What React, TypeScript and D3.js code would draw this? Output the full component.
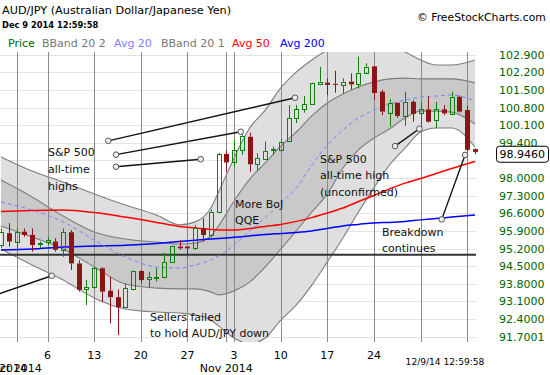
import React from 'react';
import * as d3 from 'd3';

// ---- price bars (daily, incl. Sunday sessions) ----
const dates = [
  '2014-09-29','2014-09-30','2014-10-01','2014-10-02','2014-10-03','2014-10-05','2014-10-06','2014-10-07','2014-10-08','2014-10-09',
  '2014-10-10','2014-10-12','2014-10-13','2014-10-14','2014-10-15','2014-10-16','2014-10-17','2014-10-19','2014-10-20','2014-10-21',
  '2014-10-22','2014-10-23','2014-10-24','2014-10-26','2014-10-27','2014-10-28','2014-10-29','2014-10-30','2014-10-31','2014-11-02',
  '2014-11-03','2014-11-04','2014-11-05','2014-11-06','2014-11-07','2014-11-09','2014-11-10','2014-11-11','2014-11-12','2014-11-13',
  '2014-11-14','2014-11-16','2014-11-17','2014-11-18','2014-11-19','2014-11-20','2014-11-21','2014-11-23','2014-11-24','2014-11-25',
  '2014-11-26','2014-11-27','2014-11-28','2014-11-30','2014-12-01','2014-12-02','2014-12-03','2014-12-04','2014-12-05','2014-12-07',
  '2014-12-08','2014-12-09'
];
const opens = [
  95.34, 95.81, 95.48, 95.87, 95.74, 95.36, 95.45, 95.48, 95.15, 95.85,
  94.61, 93.58, 93.66, 94.42, 93.53, 93.27, 92.87, 93.58, 94.31, 93.98,
  94.04, 94.06, 94.66, 95.28, 95.28, 95.21, 96.00, 95.74, 96.66, 98.96,
  98.63, 99.12, 99.64, 98.55, 98.76, 99.11, 99.12, 99.47, 100.37, 100.73,
  100.94, 101.76, 101.79, 101.74, 101.70, 101.83, 101.74, 102.20, 102.44, 101.43,
  100.60, 100.99, 100.48, 101.03, 100.57, 100.73, 100.31, 100.73, 100.57, 101.23,
  100.70, 99.15
];
const highs = [
  96.00, 96.21, 96.00, 96.00, 96.00, 95.48, 95.67, 95.61, 96.00, 95.94,
  94.74, 93.95, 94.46, 94.46, 94.08, 93.58, 93.82, 94.33, 94.33, 94.28,
  94.42, 95.04, 95.32, 95.54, 95.30, 96.14, 96.40, 96.75, 99.00, 99.10,
  99.52, 99.78, 99.80, 98.99, 99.45, 99.25, 99.58, 100.90, 100.90, 101.26,
  101.80, 102.42, 101.96, 102.26, 101.96, 102.16, 102.82, 102.56, 102.45, 101.50,
  101.13, 101.00, 101.43, 101.10, 101.03, 101.23, 101.03, 100.90, 101.43, 101.28,
  100.86, 99.18
];
const lows = [
  95.22, 95.28, 95.08, 95.67, 95.08, 95.21, 95.34, 95.08, 94.87, 94.35,
  93.49, 92.96, 93.62, 93.07, 92.23, 91.77, 92.83, 93.55, 93.82, 93.66,
  93.89, 94.02, 94.64, 95.15, 94.88, 95.15, 95.48, 95.65, 96.60, 98.26,
  98.45, 98.92, 98.25, 98.32, 98.72, 98.92, 99.05, 99.45, 100.18, 100.60,
  100.90, 101.76, 101.30, 101.39, 101.36, 101.52, 101.56, 102.16, 101.12, 100.50,
  100.04, 100.40, 100.07, 100.24, 99.98, 100.20, 99.98, 100.50, 100.50, 100.60,
  99.05, 98.95
];
const closes = [
  95.87, 95.48, 95.87, 95.74, 95.34, 95.41, 95.54, 95.15, 95.85, 94.61,
  93.56, 93.66, 94.42, 93.49, 93.27, 92.87, 93.62, 94.31, 93.95, 94.06,
  94.07, 94.66, 95.30, 95.21, 95.21, 96.00, 95.74, 96.66, 98.96, 98.62,
  99.12, 99.69, 98.55, 98.79, 99.08, 99.15, 99.45, 100.37, 100.73, 100.94,
  101.79, 101.83, 101.70, 101.70, 101.83, 101.72, 102.19, 102.42, 101.38, 100.64,
  100.99, 100.47, 101.03, 100.55, 100.73, 100.24, 100.73, 100.57, 101.23, 100.64,
  99.12, 99.04
];
const lastPrice = 98.946;

// ---- indicator values read at sample bars ----
const bandIdx = [0, 4, 8, 12, 16, 20, 23, 25, 27, 28, 30, 32, 34, 36, 38, 40, 42, 44, 46, 48, 50, 52, 54, 56, 58, 61];
const bbUpper2 = [98.84, 98.28, 97.84, 97.37, 96.93, 96.53, 96.14, 96.26, 96.81, 97.45, 98.80, 99.99, 100.70, 101.58, 102.21, 102.69, 103.09, 103.40, 103.56, 103.48, 103.25, 103.01, 102.69, 102.49, 102.49, 102.69];
const bbUpper1 = [97.92, 97.25, 96.49, 95.86, 95.58, 95.46, 95.38, 95.42, 95.70, 96.10, 97.09, 97.96, 98.60, 99.27, 99.83, 100.47, 100.98, 101.34, 101.62, 101.82, 101.94, 101.97, 101.94, 101.94, 101.94, 101.78];
const avg20 = [97.05, 96.73, 96.26, 95.54, 94.87, 94.47, 94.43, 94.55, 94.75, 94.91, 95.34, 95.90, 96.42, 97.01, 97.61, 98.52, 99.31, 99.91, 100.39, 100.70, 100.94, 101.10, 101.22, 101.26, 101.30, 101.06];
const bbLower1 = [96.10, 95.66, 95.18, 94.47, 93.79, 93.63, 93.60, 93.60, 93.48, 93.36, 93.52, 93.87, 94.47, 95.18, 95.90, 96.65, 97.37, 98.40, 99.12, 99.59, 99.95, 100.39, 100.66, 100.66, 100.62, 100.15];
const bbLower2 = [95.18, 94.55, 93.95, 93.24, 92.80, 92.68, 92.64, 92.56, 92.36, 92.13, 91.65, 91.41, 91.65, 92.36, 92.96, 93.75, 94.67, 95.62, 96.65, 97.61, 98.52, 99.19, 99.83, 99.99, 99.99, 99.23];
const avg50 = [96.67, 96.71, 96.73, 96.63, 96.45, 96.24, 96.08, 96.02, 95.96, 95.94, 95.94, 96.00, 96.08, 96.16, 96.28, 96.43, 96.61, 96.81, 97.07, 97.31, 97.57, 97.80, 97.98, 98.18, 98.38, 98.66];
const avg200 = [95.14, 95.18, 95.26, 95.30, 95.33, 95.40, 95.48, 95.53, 95.58, 95.60, 95.65, 95.70, 95.76, 95.80, 95.84, 95.90, 96.00, 96.10, 96.16, 96.22, 96.24, 96.28, 96.34, 96.39, 96.45, 96.53];
const supportLevel = 94.95;

// ---- axes ----
const yTicks = [102.9, 102.2, 101.5, 100.8, 100.1, 99.4, 98.7, 98.0, 97.3, 96.6, 95.9, 95.2, 94.5, 93.8, 93.1, 92.4, 91.7001];
const yTickLabels = ['102.900', '102.200', '101.500', '100.800', '100.100', '99.400', '', '98.0000', '97.3000', '96.6000', '95.9000', '95.2000', '94.5000', '93.8000', '93.1000', '92.4000', '91.7001'];
const weekTickDates = ['2014-10-06', '2014-10-13', '2014-10-20', '2014-10-27', '2014-11-03', '2014-11-10', '2014-11-17', '2014-11-24', '2014-12-01', '2014-12-08'];
const weekTickLabels = ['6', '13', '20', '27', '3', '10', '17', '24', '', ''];
const monthLineDates = ['2014-10-01', '2014-11-02'];
const monthLabelDates = ['2014-09-29', '2014-10-01', '2014-11-02'];
const monthLabels = ['Sep 2014', 'Oct 2014', 'Nov 2014'];

const legendNames = ['Price', 'BBand 20 2', 'Avg 20', 'BBand 20 1', 'Avg 50', 'Avg 200'];
const legendColors = ['#006400', '#777777', '#8080ff', '#777777', '#ff0000', '#0000ff'];
const legendX = [8, 42, 114, 161, 232, 280];

// ---- annotations (bar index, price) ----
const noteSegments = [
  { i1: 13.81, p1: 99.48, i2: 37.84, p2: 101.19, dot1: true },
  { i1: 14.80, p1: 98.93, i2: 30.85, p2: 99.84, dot1: true },
  { i1: 14.80, p1: 98.45, i2: 25.70, p2: 98.75, dot1: true },
  { i1: -1.6, p1: 93.26, i2: 6.53, p2: 94.12, dot1: false },
  { i1: 50.71, p1: 99.27, i2: 53.84, p2: 99.96, dot1: true },
  { i1: 56.72, p1: 96.36, i2: 59.72, p2: 98.92, dot1: true },
];
const noteTexts = [
  { i: 6.05, p: [99.04, 98.36, 97.69], lines: ['S&P 500', 'all-time', 'highs'] },
  { i: 30.12, p: [96.97, 96.34], lines: ['More BoJ', 'QQE'] },
  { i: 41.06, p: [98.75, 98.12, 97.46], lines: ['S&P 500', 'all-time high', '(unconfirmed)'] },
  { i: 49.03, p: [95.87, 95.24], lines: ['Breakdown', 'continues'] },
  { i: 19.18, p: [92.49, 91.86], lines: ['Sellers failed', 'to hold AUD/JPY down'] },
];

const FONT = "'DejaVu Sans', Verdana, sans-serif";
const UP = '#12800f';
const DOWN = '#8b1414';

export default function App() {
  const plot = { left: 0, right: 478, top: 52, bottom: 342 };
  const x = d3.scaleLinear().domain([0, dates.length - 1]).range([1, 475]);
  const y = d3.scaleLinear().domain([91.7001, 102.9]).range([336.7, 54.7]);
  const xd = (d: string) => x(dates.indexOf(d));
  const crisp = (v: number) => Math.round(v) + 0.5;

  const pts = (arr: number[]) => bandIdx.map((b, k) => [b, arr[k]] as [number, number]);
  const line = d3.line<[number, number]>().x(d => x(d[0])).y(d => y(d[1])).curve(d3.curveMonotoneX);
  const area = (hi: number[], lo: number[]) =>
    d3.area<number>().x(k => x(bandIdx[k])).y0(k => y(lo[k])).y1(k => y(hi[k])).curve(d3.curveMonotoneX)(bandIdx.map((_, k) => k)) || '';

  return (
    <svg width={550} height={375} style={{ position: 'absolute', left: 0, top: 0, background: '#fff' }} fontFamily={FONT}>
      <defs>
        <clipPath id="plotClip">
          <rect x={plot.left} y={plot.top} width={plot.right - plot.left} height={plot.bottom - plot.top} />
        </clipPath>
      </defs>
      <rect x={0} y={0} width={550} height={375} fill="#fff" />

      {/* header */}
      <text x={2} y={13.5} fontSize={11.25} fill="#000">AUD/JPY (Australian Dollar/Japanese Yen)</text>
      <text x={2} y={28.3} fontSize={8.3} fontWeight="bold" fill="#000">Dec 9 2014 12:59:58</text>
      <text x={417} y={20.5} fontSize={10.8} fill="#000">© FreeStockCharts.com</text>
      {legendNames.map((n, k) => (
        <text key={n + k} x={legendX[k]} y={47} fontSize={11} fill={legendColors[k]}>{n}</text>
      ))}

      {/* horizontal grid */}
      {yTicks.map(t => (
        <line key={'hg' + t} x1={plot.left} x2={476} y1={crisp(y(t))} y2={crisp(y(t))} stroke="#e3e3e3" />
      ))}

      <g clipPath="url(#plotClip)">
        {/* bands */}
        <path d={area(bbUpper2, bbLower2)} fill="#dfdfdf" />
        <path d={area(bbUpper1, bbLower1)} fill="#c9c9c9" />
        {[bbUpper2, bbUpper1, bbLower1, bbLower2].map((arr, k) => (
          <path key={'bl' + k} d={line(pts(arr)) || ''} fill="none" stroke="#7d7d7d" strokeWidth={1.1} />
        ))}

        {/* vertical grid */}
        {weekTickDates.map(d => (
          <line key={'vg' + d} x1={crisp(xd(d))} x2={crisp(xd(d))} y1={plot.top} y2={plot.bottom} stroke="#8a8a8a" />
        ))}
        {monthLineDates.map(d => (
          <line key={'mg' + d} x1={crisp(xd(d))} x2={crisp(xd(d))} y1={plot.top} y2={plot.bottom} stroke="#8a8a8a" />
        ))}

        {/* support */}
        <line x1={0} x2={476} y1={y(supportLevel)} y2={y(supportLevel)} stroke="#333" strokeWidth={2} />

        {/* moving averages */}
        <path d={line(pts(avg200)) || ''} fill="none" stroke="#0000ff" strokeWidth={1.5} />
        <path d={line(pts(avg50)) || ''} fill="none" stroke="#ff0000" strokeWidth={1.5} />
        <path d={line(pts(avg20)) || ''} fill="none" stroke="#8080ff" strokeWidth={1} strokeDasharray="4,3" />

        {/* candles */}
        {dates.map((d, i) => {
          const o = opens[i], c = closes[i], h = highs[i], l = lows[i];
          const up = c >= o;
          const px = Math.round(x(i));
          const top = y(Math.max(o, c)), bot = y(Math.min(o, c));
          const col = up ? UP : DOWN;
          const bh = Math.max(1, bot - top);
          return (
            <g key={d}>
              <line x1={px + 0.5} x2={px + 0.5} y1={y(h)} y2={top} stroke={col} />
              <line x1={px + 0.5} x2={px + 0.5} y1={top + bh} y2={y(l)} stroke={col} />
              {up ? (
                <rect x={px - 1.5} y={Math.round(top) + 0.5} width={4} height={Math.max(1, Math.round(bh))} fill="none" stroke={col} />
              ) : (
                <rect x={px - 2} y={top} width={5} height={bh} fill={col} />
              )}
            </g>
          );
        })}

        {/* annotation lines */}
        {noteSegments.map((s, k) => (
          <g key={'ns' + k}>
            <line x1={x(s.i1)} y1={y(s.p1)} x2={x(s.i2)} y2={y(s.p2)} stroke="#111" strokeWidth={1.4} />
            {s.dot1 && <circle cx={x(s.i1)} cy={y(s.p1)} r={2.8} fill="#eee" stroke="#555" />}
            <circle cx={x(s.i2)} cy={y(s.p2)} r={2.8} fill="#eee" stroke="#555" />
          </g>
        ))}
      </g>

      {/* annotation texts */}
      {noteTexts.map((n, k) => (
        <g key={'nt' + k}>
          {n.lines.map((ln, j) => (
            <text key={j} x={x(n.i)} y={y(n.p[j]) + 4} fontSize={11} fill="#111">{ln}</text>
          ))}
        </g>
      ))}

      {/* y axis labels */}
      {yTicks.map((t, k) => yTickLabels[k] ? (
        <text key={'yl' + t} x={499} y={y(t) + 4} fontSize={11} fill="#006400">{yTickLabels[k]}</text>
      ) : null)}
      <rect x={496.5} y={y(lastPrice) - 8} width={52} height={16} rx={3} fill="#fff" stroke="#000" />
      <text x={499.5} y={y(lastPrice) + 4} fontSize={11} fill="#000">{lastPrice.toFixed(4)}</text>

      {/* x axis labels */}
      {weekTickDates.map((d, k) => weekTickLabels[k] ? (
        <text key={'xl' + d} x={xd(d)} y={359} fontSize={11} textAnchor="middle" fill="#000">{weekTickLabels[k]}</text>
      ) : null)}
      {monthLabelDates.map((d, k) => (
        <text key={'ml' + d} x={xd(d)} y={372} fontSize={11} textAnchor="middle" fill="#000">{monthLabels[k]}</text>
      ))}
      <text x={445} y={365} fontSize={9.1} textAnchor="middle" fill="#000">12/9/14 12:59:58</text>
    </svg>
  );
}
